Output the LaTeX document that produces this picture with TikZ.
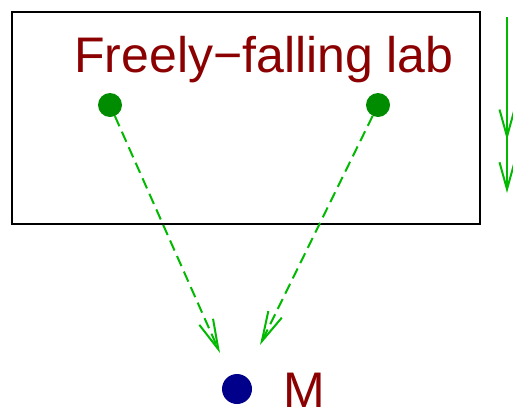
\documentclass[tikz,border=0pt]{standalone}
\usepackage{fontspec}
\setmainfont{Liberation Sans}
\usetikzlibrary{arrows.meta, positioning}
\definecolor{labred}{RGB}{139,0,0}
\definecolor{dotgreen}{RGB}{0,140,0}
\definecolor{pathgreen}{RGB}{0,185,0}
\definecolor{massblue}{RGB}{0,0,139}

\begin{document}
\begin{tikzpicture}[x=1pt, y=-1pt,
      every node/.style={font=\fontsize{50}{50}\selectfont},
      lab/.style={text=labred, inner sep=0pt},
      particle/.style={circle, fill=dotgreen, minimum size=24pt, inner sep=0pt},
      mass/.style={circle, fill=massblue, minimum size=30pt, inner sep=0pt},
      fall/.style={pathgreen, line width=2pt, dash pattern=on 11pt off 6pt,
                   -{Straight Barb[length=30pt, width=15pt]}}]
    \useasboundingbox (0,0) rectangle (513,410);
    \draw[line width=2pt] (12,12) rectangle (480,224);
    \node[lab, anchor=base] (title) at (264,72) {Freely\textminus falling lab};
    \node[particle] (pl) at (110,105) {};
    \node[particle] (pr) at (378,105) {};
    \node[mass] (m) at (237,389) {};
    \node[lab, anchor=base west, text depth=0pt] (mlabel) at (283,407) {M};
    \coordinate (tl) at (220,353);
    \coordinate (tr) at (260,345);
    \draw[fall] (pl) -- (tl);
    \draw[fall] (pr) -- (tr);
    % fall direction of the lab
    \coordinate (gtop) at (507,17);
    \coordinate (gbot) at (507,193);
    \draw[pathgreen, line width=2pt,
          -{Straight Barb[length=27pt, width=15pt, sep=21pt] Straight Barb[length=27pt, width=15pt]}]
      (gtop) -- (gbot);
  \end{tikzpicture}
\end{document}
